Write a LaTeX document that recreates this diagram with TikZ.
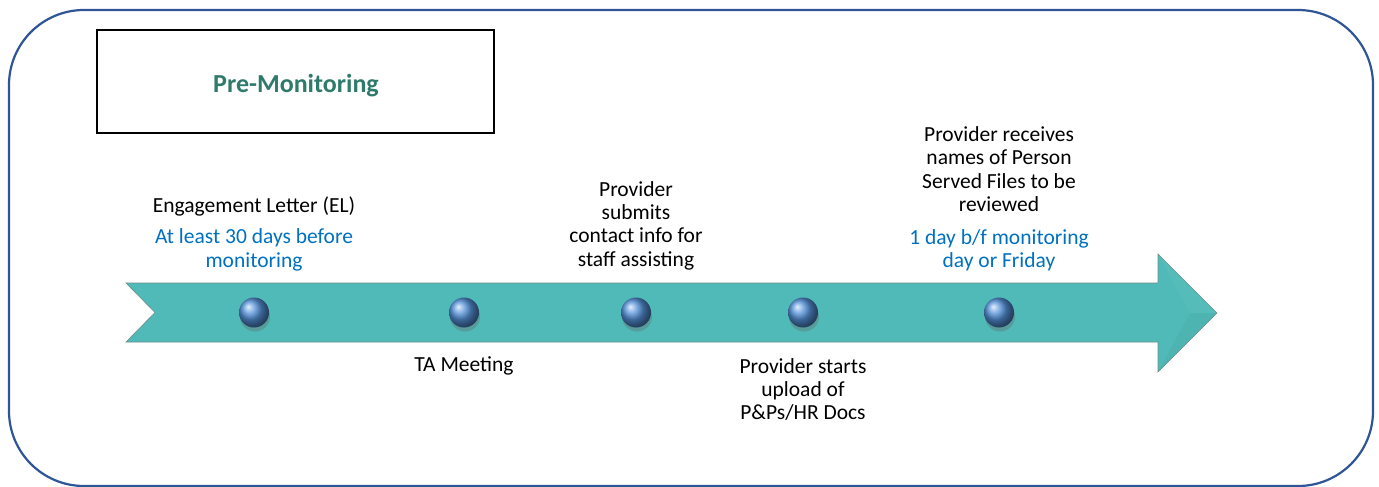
\documentclass[tikz,border=0pt]{standalone}
\usepackage{fontspec}
\setmainfont{Carlito}
\usetikzlibrary{shadows}
\definecolor{frameblue}{HTML}{2F5597}
\definecolor{titleteal}{HTML}{2E7B6C}
\definecolor{arrowteal}{HTML}{50BAB8}
\definecolor{arrowedge}{HTML}{6E8E8C}
\definecolor{noteblue}{HTML}{0070C0}
\definecolor{ballblue}{HTML}{5592DA}
\tikzset{
  txt/.style={font=\fontsize{21.5}{23.3}\selectfont, align=center, text=black, inner sep=0pt},
  note/.style={txt, text=noteblue},
  ball/.style={circle, minimum size=30pt, inner sep=0pt, shading=ball, ball color=ballblue,
    drop shadow={shadow xshift=1pt, shadow yshift=-4pt, opacity=0.35, fill=black!60}},
}
\begin{document}
\begin{tikzpicture}[x=1pt, y=-1pt]
\useasboundingbox (0,0) rectangle (1379,487);
% outer frame
\draw[frameblue, line width=2.2pt, rounded corners=75pt] (9,10) rectangle (1373,486);
% title box and its caption
\node[draw=black, line width=1.3pt, minimum width=397pt, minimum height=103pt, inner sep=0pt]
  (titlebox) at (295.5,81.5) {};
\node[font=\fontsize{26}{30}\selectfont\bfseries, text=titleteal, inner sep=0pt]
  (title) at (296,86) {Pre-Monitoring};
% timeline arrow
\fill[arrowteal, draw=arrowedge, line width=0.6pt]
  (126,283) -- (1158,283) -- (1158,254) -- (1217,313) -- (1158,372) -- (1158,342)
  -- (126,342) -- (155,312.5) -- cycle;
% faint bevel on the arrow head
\fill[white, opacity=0.04] (1158,254) -- (1217,313) -- (1190,313) -- cycle;
\fill[black, opacity=0.03] (1158,372) -- (1217,313) -- (1190,313) -- cycle;
% milestones
\node[ball] (b1) at (254,312.5) {};
\node[ball] (b2) at (464,312.5) {};
\node[ball] (b3) at (636,312.5) {};
\node[ball] (b4) at (803,312.5) {};
\node[ball] (b5) at (999,312.5) {};
% labels
\node[txt] (t1) at (254,206) {Engagement Letter (EL)};
\node[note] (n1) at (254,250) {At least 30 days before\\monitoring};
\node[txt] (t2) at (464,366) {TA Meeting};
\node[txt] (t3) at (636,225.5) {Provider\\submits\\contact info for\\staff assisting};
\node[txt] (t4) at (803,389.5) {Provider starts\\upload of\\P\&Ps/HR Docs};
\node[txt] (t5) at (999,169) {Provider receives\\names of Person\\Served Files to be\\reviewed};
\node[note] (n5) at (999,250) {1 day b/f monitoring\\day or Friday};
\end{tikzpicture}
\end{document}
